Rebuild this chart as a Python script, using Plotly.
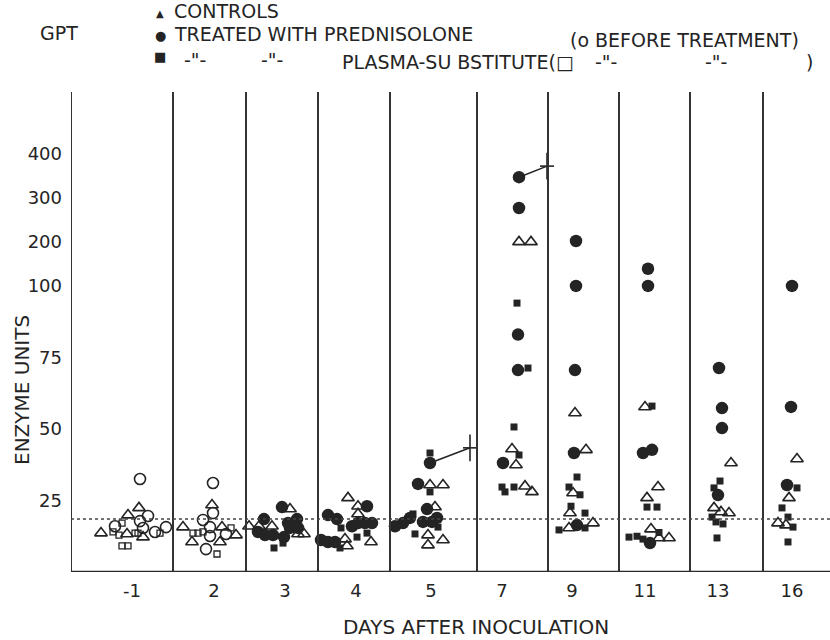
import plotly.graph_objects as go

# ---- data -------------------------------------------------------------
DAY_LABELS = ["-1", "2", "3", "4", "5", "7", "9", "11", "13", "16"]
Y_TICK_VALUES = [25, 50, 75, 100, 200, 300, 400]

# Controls (open triangles)
ctrl_day = ["-1"] * 5 + ["2"] * 6 + ["3"] * 6 + ["4"] * 6 + ["5"] * 6 + ["7"] * 6 + ["9"] * 6 + ["11"] * 6 + ["13"] * 4 + ["16"] * 4
ctrl_val = [13.6, 19.9, 22.4, 13.3, 12.2,
            23.4, 15.7, 15.7, 12.9, 10.5, 10.5,
            16, 16, 16, 22, 13.3, 13.3,
            25.9, 23, 20.3, 11.5, 9.1, 10.5,
            30.4, 30.4, 22.7, 12.9, 11.2, 9.4,
            200, 200, 43, 37.4, 30, 28,
            55.6, 42.7, 27.6, 20.6, 15.4, 17.1,
            57.7, 29.7, 25.9, 15, 11.9, 11.9,
            38.1, 22.4, 21, 20.6,
            39.5, 25.9, 17.1, 16.4]

# Treated with prednisolone (filled circles)
pred_day = ["3"] * 10 + ["4"] * 10 + ["5"] * 9 + ["7"] * 5 + ["9"] * 5 + ["11"] * 5 + ["13"] * 4 + ["16"] * 3
pred_val = [14, 18.5, 12.9, 12.9, 22.7, 17.1, 18.5, 12.2, 15.4, 15.4,
            23, 19.9, 18.5, 16, 17.1, 17.1, 17.1, 11.2, 10.5, 10.5,
            38.1, 30.8, 22, 18.9, 17.1, 16, 17.5, 17.5, 18.9,
            347, 277, 83, 70.6, 38.1,
            202, 100, 70.6, 41.6, 16.4,
            139, 100, 41.6, 42.7, 10.1,
            71.3, 57.3, 50.3, 26.9,
            100, 57.7, 30.4]

# Treated with plasma substitute (filled squares)
plas_day = ["3"] * 2 + ["4"] * 4 + ["5"] * 6 + ["7"] * 7 + ["9"] * 7 + ["11"] * 7 + ["13"] * 6 + ["16"] * 5
plas_val = [8.4, 10.1,
            15.4, 8.4, 12.2, 13.6,
            41.6, 28, 20.3, 16, 15.7, 13.3,
            94, 71.3, 50.7, 40.9, 29.7, 28, 29.7,
            33.2, 29.7, 27, 23, 20.6, 14.7, 15.4,
            58, 22.7, 22.7, 12.2, 12.5, 11.5, 13.8,
            31.8, 29.4, 19.2, 17.5, 16.8, 11.9,
            29.4, 22.4, 19.2, 15.7, 10.5]

# Prednisolone group before treatment (open circles)
pre_pred_day = ["-1"] * 7 + ["2"] * 7
pre_pred_val = [32.5, 16, 19.6, 17.8, 15.4, 14, 15.7,
                31.1, 20.6, 18.2, 15.7, 12.6, 13.3, 8]

# Plasma-substitute group before treatment (open squares)
pre_plas_day = ["-1"] * 8 + ["2"] * 5
pre_plas_val = [14, 17.1, 12.9, 13.6, 13.6, 9.1, 9.1, 13.6,
                13.6, 13.6, 14, 15.4, 6.3]

# Deaths (dagger) following the last prednisolone value
death_day = ["5", "7"]
death_from_val = [38.1, 347]
death_val = [43.4, 372]

NORMAL_LIMIT = 18.5

# ---- horizontal spread of the points inside each day column ------------
ctrl_jit = [-31, -4, 7, -5, 11,
            -2, -31, 8, 22, -22, 6,
            -36, -26, -13, 5, 13, 19,
            -8, 2, 2, -11, -9, 15,
            -1, 12, 4, -3, 12, -3,
            17, 29, 10, 14, 23, 30,
            3, 14, 1, -2, -3, 21,
            0, 13, 2, 6, 14, 24,
            13, -4, 3, 11,
            5, -3, -14, -6]
pred_jit = [-27, -21, -20, -12, -3, 3, 12, -1, 5, 13,
            11, -28, -19, -4, 2, 9, 16, -35, -28, -21,
            -1, -13, -4, -21, -28, -36, -8, 1, 6,
            17, 17, 16, 16, 1,
            4, 4, 3, 2, 5,
            3, 3, -2, 7, 5,
            1, 4, 4, 0,
            0, -1, -5]
plas_jit = [-11, -2,
            -15, -16, 1, 11,
            -1, -1, -18, -37, 7, -16,
            15, 26, 12, 17, 0, 3, 12,
            5, -3, 8, -1, 13, -13, 13,
            7, 2, 12, -16, -8, -2, 14,
            2, -4, -6, -2, 5, -1,
            5, -10, -4, 1, -4]
pre_pred_jit = [8, -17, 16, 8, 11, 23, 34,
                -1, -1, -11, -4, -4, 12, -8]
pre_plas_jit = [-19, -10, -13, 3, 6, -10, -4, 28,
                -21, -16, -11, 17, 3]
death_from_jit = [-1, 17]
death_jit = [39, 45]

# ---- layout geometry (pixel units along x) -----------------------------
X_LEFT, X_RIGHT = 71, 830
COL_CENTER = dict(zip(DAY_LABELS, [132, 214, 285, 356, 431, 502, 572, 645, 718, 792]))
DIVIDERS = [173, 246, 318, 390, 477, 548, 619, 690, 763]

INK = "#242424"
FONT = "DejaVu Sans"


def yscale(v):
    """Linear up to 100, compressed above 100."""
    return v if v <= 100 else 100 + (v - 100) * 0.154


Y_TOP = 167.8


def xs(days, jit):
    return [COL_CENTER[d] + j for d, j in zip(days, jit)]


def ys(vals):
    return [yscale(v) for v in vals]


fig = go.Figure()


def add_points(days, jit, vals, symbol, size, name, lw=1.6):
    fig.add_trace(go.Scatter(
        x=xs(days, jit), y=ys(vals), mode="markers", name=name,
        marker=dict(symbol=symbol, size=size, color=INK,
                    line=dict(color=INK, width=lw)),
        customdata=vals, hovertemplate="%{customdata}<extra>" + name + "</extra>",
    ))


add_points(ctrl_day, ctrl_jit, ctrl_val, "triangle-up-open", 11, "Controls")
add_points(pre_pred_day, pre_pred_jit, pre_pred_val, "circle-open", 11, "Prednisolone, before")
add_points(pre_plas_day, pre_plas_jit, pre_plas_val, "square-open", 6, "Plasma substitute, before", 1.3)
add_points(pred_day, pred_jit, pred_val, "circle", 12.5, "Prednisolone", 0)
add_points(plas_day, plas_jit, plas_val, "square", 7, "Plasma substitute", 0)

# connector from the last value to the dagger, then the dagger itself
for d, fj, fv, dj, dv in zip(death_day, death_from_jit, death_from_val, death_jit, death_val):
    fig.add_trace(go.Scatter(
        x=[COL_CENTER[d] + fj, COL_CENTER[d] + dj], y=[yscale(fv), yscale(dv)],
        mode="lines", line=dict(color=INK, width=1.6), hoverinfo="skip", showlegend=False))
    fig.add_trace(go.Scatter(
        x=[COL_CENTER[d] + dj], y=[yscale(dv)], mode="markers", hoverinfo="skip",
        marker=dict(symbol="line-ns", size=19, line=dict(color=INK, width=1.6)), showlegend=False))
    fig.add_trace(go.Scatter(
        x=[COL_CENTER[d] + dj], y=[yscale(dv)], mode="markers", hoverinfo="skip",
        marker=dict(symbol="line-ew", size=10, line=dict(color=INK, width=1.6)), showlegend=False))

shapes = []
for xd in DIVIDERS:
    shapes.append(dict(type="line", xref="x", yref="paper", x0=xd, x1=xd, y0=0, y1=1,
                       line=dict(color="#333333", width=2)))
shapes.append(dict(type="line", xref="x", yref="paper", x0=X_LEFT, x1=X_LEFT, y0=0, y1=1,
                   line=dict(color="#333333", width=2)))
shapes.append(dict(type="line", xref="x", yref="y", x0=X_LEFT, x1=X_RIGHT, y0=0, y1=0,
                   line=dict(color="#2a2a2a", width=2.5)))
shapes.append(dict(type="line", xref="x", yref="y", x0=X_LEFT, x1=X_RIGHT,
                   y0=NORMAL_LIMIT, y1=NORMAL_LIMIT,
                   line=dict(color="#444444", width=1.5, dash="dot")))

PLOT_W = X_RIGHT - X_LEFT
PLOT_TOP, PLOT_BOTTOM = 92, 572


def px(xp):
    return (xp - X_LEFT) / PLOT_W


def py(yp):
    return (PLOT_BOTTOM - yp) / (PLOT_BOTTOM - PLOT_TOP)


ann = []


def text(x, y, s, size=19, anchor="left", angle=0):
    ann.append(dict(xref="paper", yref="paper", x=px(x), y=py(y), text=s, showarrow=False,
                    xanchor=anchor, yanchor="middle", textangle=angle,
                    font=dict(family=FONT, size=size, color=INK)))


text(38, 33, "GPT")
text(160, 14, "▲", size=10, anchor="center")
text(172, 11, "CONTROLS")
text(160, 35, "●", size=13, anchor="center")
text(172, 34, "TREATED WITH PREDNISOLONE")
text(568, 40, "(o BEFORE TREATMENT)")
text(160, 56, "■", size=13, anchor="center")
text(195, 60, '-"-', anchor="center")
text(272, 60, '-"-', anchor="center")
text(340, 62, "PLASMA-SU BSTITUTE(□")
text(606, 62, '-"-', anchor="center")
text(716, 62, '-"-', anchor="center")
text(809, 62, ")", anchor="center")
text(476, 627, "DAYS AFTER INOCULATION", size=20, anchor="center")
text(22, 390, "ENZYME UNITS", size=20, anchor="center", angle=-90)

fig.update_layout(
    width=830, height=640,
    margin=dict(l=X_LEFT, r=0, t=PLOT_TOP, b=640 - PLOT_BOTTOM),
    paper_bgcolor="white", plot_bgcolor="white",
    showlegend=False,
    shapes=shapes, annotations=ann,
    xaxis=dict(range=[X_LEFT, X_RIGHT], showgrid=False, zeroline=False, showline=False,
               tickvals=[COL_CENTER[d] for d in DAY_LABELS], ticktext=DAY_LABELS,
               ticks="", ticklabelstandoff=6,
               tickfont=dict(family=FONT, size=18, color=INK)),
    yaxis=dict(range=[0, Y_TOP], showgrid=False, zeroline=False, showline=False,
               tickvals=[yscale(v) for v in Y_TICK_VALUES],
               ticktext=[str(v) for v in Y_TICK_VALUES],
               ticks="", ticklabelstandoff=8,
               tickfont=dict(family=FONT, size=18, color=INK)),
)

fig.write_html("out.html")
